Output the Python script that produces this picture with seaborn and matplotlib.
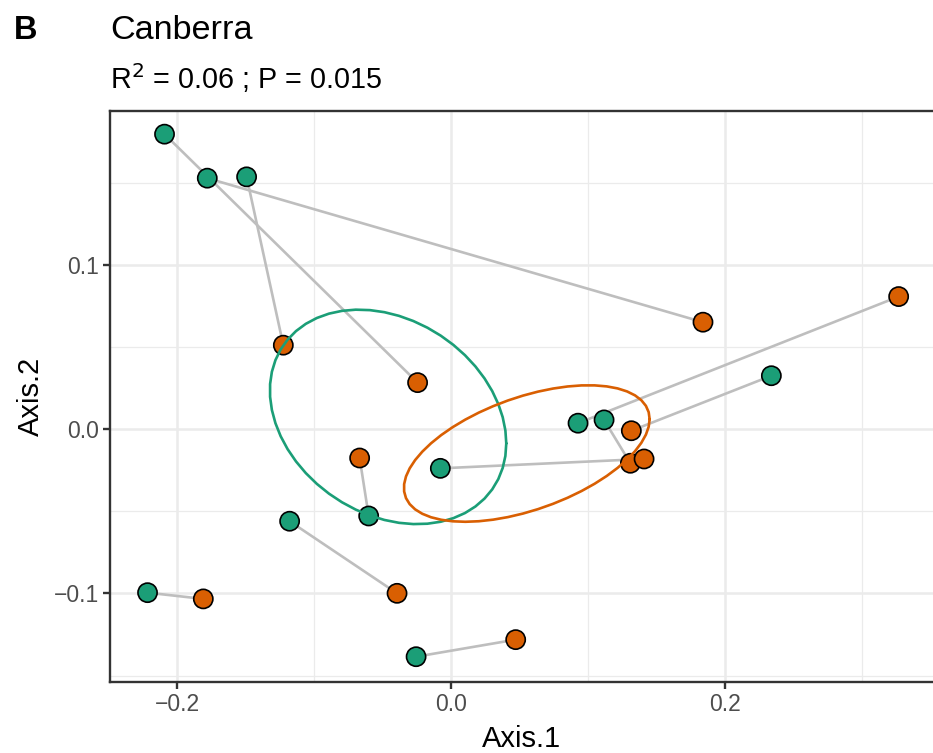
import numpy as np
import pandas as pd
import matplotlib
matplotlib.use("Agg")
import matplotlib.pyplot as plt
import seaborn as sns

# ---- data ----
subjects = ["S1", "S2", "S3", "S4", "S5", "S6", "S7", "S8", "S9", "S10", "S11"]
green_x = [-0.2091, -0.1779, -0.1492, -0.0601, -0.1178, -0.2215, -0.0255, 0.0927, 0.1117, 0.2338, -0.0078]
green_y = [0.1797, 0.1529, 0.1537, -0.0528, -0.0560, -0.0995, -0.1385, 0.0037, 0.0057, 0.0326, -0.0238]
orange_x = [-0.0244, 0.1839, -0.1224, -0.0667, -0.0394, -0.1808, 0.0472, 0.3267, 0.1309, 0.1316, 0.1409]
orange_y = [0.0284, 0.0652, 0.0512, -0.0175, -0.0999, -0.1033, -0.1281, 0.0808, -0.0207, -0.0009, -0.0181]
groups = ["A", "B"]
palette = {"A": "#1B9E77", "B": "#D95F02"}
title = "Canberra"
subtitle = r"R$^{2}$ = 0.06 ; P = 0.015"
panel_tag = "B"
x_ticks = [-0.2, 0.0, 0.2]
y_ticks = [-0.1, 0.0, 0.1]
ELLIPSE_LEVEL = 0.2

df = pd.DataFrame({
    "subject": subjects + subjects,
    "group": ["A"] * len(subjects) + ["B"] * len(subjects),
    "Axis.1": green_x + orange_x,
    "Axis.2": green_y + orange_y,
})


def cov_trob(X, nu=5, maxit=25, tol=0.01):
    n, p = X.shape
    wt = np.ones(n)
    loc = X.mean(axis=0)
    w = np.sqrt(wt)
    Xc = X - loc
    for _ in range(maxit):
        w0 = w
        Xc = X - loc
        _, d, Vt = np.linalg.svd(np.sqrt(w / w.sum())[:, None] * Xc, full_matrices=False)
        wX = Xc @ Vt.T @ np.diag(1.0 / d)
        Q = (wX ** 2).sum(axis=1)
        w = wt * (nu + p) / (nu + Q)
        loc = (w[:, None] * X).sum(axis=0) / w.sum()
        if np.all(np.abs(w - w0) < tol):
            break
    sw = np.sqrt(w)[:, None] * Xc
    cov = sw.T @ sw / wt.sum()
    return cov, loc


def ellipse_pts(X, level, segments=51):
    cov, center = cov_trob(X)
    n = X.shape[0]
    dfn, dfd = 2, n - 1
    q = dfd / 2.0 * ((1 - level) ** (-2.0 / dfd) - 1)
    radius = np.sqrt(dfn * q)
    R = np.linalg.cholesky(cov).T
    ang = np.arange(segments + 1) * 2 * np.pi / segments
    uc = np.column_stack([np.cos(ang), np.sin(ang)])
    return center + radius * (uc @ R)


sns.set_theme(style="white")
plt.rcParams["font.family"] = ["Liberation Sans", "DejaVu Sans"]

fig = plt.figure(figsize=(9.33, 7.53), dpi=100)
W, H = 933, 753
ax = fig.add_axes([110 / W, 1 - 682 / H, (934 - 110) / W, (682 - 111) / H])

# pair lines
sns.lineplot(data=df, x="Axis.1", y="Axis.2", units="subject", estimator=None,
             sort=False, color="#BEBEBE", linewidth=1.9, ax=ax, zorder=2, legend=False)

# points
sns.scatterplot(data=df, x="Axis.1", y="Axis.2", hue="group", palette=palette,
                s=190, edgecolor="black", linewidth=1.2, ax=ax, zorder=3, legend=False)

# ellipses
for g in groups:
    X = df.loc[df["group"] == g, ["Axis.1", "Axis.2"]].to_numpy()
    E = ellipse_pts(X, ELLIPSE_LEVEL)
    ax.plot(E[:, 0], E[:, 1], color=palette[g], linewidth=1.9, zorder=4)

ax.set_xlim(-0.2489, 0.3525)
ax.set_ylim(-0.1539, 0.1938)
ax.set_xticks(x_ticks)
ax.set_yticks(y_ticks)
ax.set_xticks([-0.1, 0.1, 0.3], minor=True)
ax.set_yticks([-0.15, -0.05, 0.05, 0.15], minor=True)
ax.set_xticklabels([f"{t:.1f}".replace("-", "\u2212") for t in x_ticks])
ax.set_yticklabels([f"{t:.1f}".replace("-", "\u2212") for t in y_ticks])
ax.grid(which="major", color="#EBEBEB", linewidth=1.8, zorder=0)
ax.grid(which="minor", color="#EBEBEB", linewidth=0.9, zorder=0)
ax.set_axisbelow(True)
for sp in ax.spines.values():
    sp.set_color("#333333")
    sp.set_linewidth(1.7)
ax.tick_params(axis="both", which="major", length=5, width=1.7, color="#333333",
               labelsize=16.5, labelcolor="#4D4D4D", pad=3, direction="out",
               bottom=True, left=True)
ax.tick_params(axis="both", which="minor", length=0)
ax.set_xlabel("Axis.1", fontsize=21, color="black", labelpad=6.5)
ax.set_ylabel("Axis.2", fontsize=21, color="black", labelpad=6)

fig.text(110 / W, 1 - 39 / H, title, fontsize=24.6, ha="left", va="baseline", color="black")
fig.text(110 / W, 1 - 89 / H, subtitle, fontsize=20.7, ha="left", va="baseline", color="black")
fig.text(14 / W, 1 - 39 / H, panel_tag, fontsize=23.5, fontweight="bold", ha="left",
         va="baseline", color="black")

fig.savefig("out.png", dpi=100)
